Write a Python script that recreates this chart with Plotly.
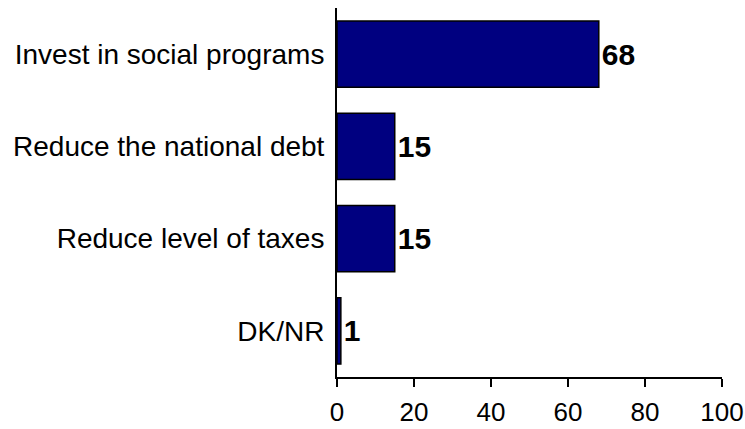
import plotly.graph_objects as go

categories = ["Invest in social programs", "Reduce the national debt",
              "Reduce level of taxes", "DK/NR"]
values = [68, 15, 15, 1]
x_ticks = [0, 20, 40, 60, 80, 100]

fig = go.Figure(
    go.Bar(
        y=categories,
        x=values,
        orientation="h",
        marker=dict(color="#000080", line=dict(color="#000000", width=1.5)),
        width=0.72,
        text=[str(v) for v in values],
        textposition="outside",
        constraintext="none",
        cliponaxis=False,
        textfont=dict(family="Liberation Sans, Arial, sans-serif", size=30,
                      color="#000000", weight="bold"),
    )
)

fig.update_layout(
    width=745,
    height=429,
    margin=dict(l=337, r=23, t=8, b=52, autoexpand=False),
    paper_bgcolor="white",
    plot_bgcolor="white",
    showlegend=False,
    bargap=0.28,
)

fig.update_xaxes(
    range=[0, 100],
    tickvals=x_ticks,
    ticks="outside",
    ticklen=8,
    tickwidth=2,
    tickcolor="#000000",
    showline=True,
    linecolor="#000000",
    linewidth=2,
    showgrid=False,
    zeroline=False,
    automargin=False,
    ticklabelstandoff=3,
    tickfont=dict(family="Liberation Sans, Arial, sans-serif", size=26,
                  color="#000000"),
)

fig.update_yaxes(
    categoryorder="array",
    categoryarray=categories[::-1],
    showline=True,
    linecolor="#000000",
    linewidth=2,
    showgrid=False,
    ticks="",
    automargin=False,
    ticklabelstandoff=5,
    tickfont=dict(family="Liberation Sans, Arial, sans-serif",
                  size=28, color="#000000"),
)

fig.write_html("out.html")
